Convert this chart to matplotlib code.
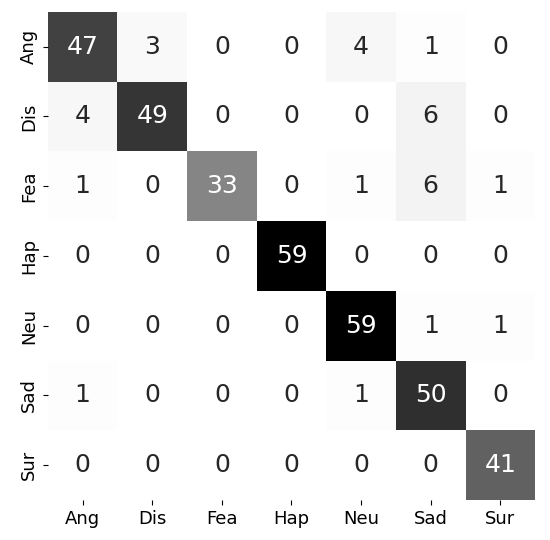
import numpy as np
import matplotlib
matplotlib.use("Agg")
import matplotlib.pyplot as plt
import seaborn as sns

labels = ["Ang", "Dis", "Fea", "Hap", "Neu", "Sad", "Sur"]
cm = np.array([
    [47, 3, 0, 0, 4, 1, 0],
    [4, 49, 0, 0, 0, 6, 0],
    [1, 0, 33, 0, 1, 6, 1],
    [0, 0, 0, 59, 0, 0, 0],
    [0, 0, 0, 0, 59, 1, 1],
    [1, 0, 0, 0, 1, 50, 0],
    [0, 0, 0, 0, 0, 0, 41],
])

fig = plt.figure(figsize=(5.5, 5.4), dpi=100)
ax = fig.add_axes([0.087, 0.074, 0.886, 0.904])
sns.heatmap(cm, annot=True, fmt="d", cmap="Greys", cbar=False,
            xticklabels=labels, yticklabels=labels, ax=ax,
            annot_kws={"size": 18})
ax.tick_params(axis="both", labelsize=13, length=3.5)
ax.set_yticklabels(labels, rotation=90, va="center")
ax.set_xticklabels(labels, rotation=0)
fig.savefig("out.png", dpi=100)
